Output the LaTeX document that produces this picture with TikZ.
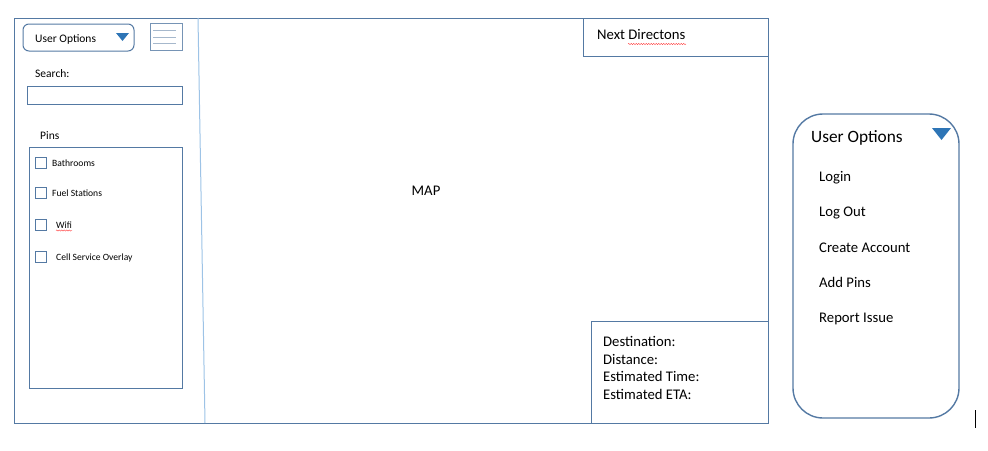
\documentclass[tikz,border=0pt]{standalone}
\usepackage{fontspec}
\setmainfont{Carlito}
\usetikzlibrary{decorations.pathmorphing}
\definecolor{frame}{HTML}{5479A3}
\definecolor{tri}{HTML}{2E75B6}
\definecolor{divider}{HTML}{9DC3E6}
\definecolor{hamb}{HTML}{A6B8CC}
\tikzset{
  box/.style={draw=frame, line width=1pt},
  lbl/.style={inner sep=0pt, anchor=mid west, font=\fontsize{14.7}{17.6}\selectfont, yshift=-2.5pt},
  sml/.style={inner sep=0pt, anchor=mid west, font=\fontsize{11.5}{13.8}\selectfont, yshift=-2pt},
  tiny/.style={inner sep=0pt, anchor=mid west, font=\fontsize{9.6}{11.5}\selectfont, yshift=-1.5pt},
  chk/.style={draw=frame, line width=0.9pt},
  squig/.style={draw=red!80, line width=0.4pt, decorate, decoration={snake, amplitude=0.6pt, segment length=2.5pt}}
}
\begin{document}
\begin{tikzpicture}[x=1pt,y=-1pt]
\useasboundingbox (0,0) rectangle (988,450);
% outer frame
\draw[box] (14,18) rectangle (768,423);
% divider
\draw[draw=divider, line width=1pt] (198,18) -- (205,423);
% left dropdown
\draw[box, rounded corners=6pt] (23,24) rectangle (134,51);
\node[sml] (uoL) at (35,38) {User Options};
\fill[tri] (116,33) -- (129,33) -- (122.5,41) -- cycle;
% hamburger
\draw[draw=frame!80, line width=0.8pt] (150,23) rectangle (182,50);
\draw[draw=hamb, line width=0.8pt] (153,30.5) -- (176,30.5) (153,37) -- (176,37) (153,43.5) -- (176,43.5);
% search
\node[sml] (search) at (35,73) {Search:};
\draw[box] (27,86) rectangle (182,104);
% pins
\node[sml] (pins) at (40,135) {Pins};
\draw[box] (29,147) rectangle (182,388);
\draw[chk] (35,157) rectangle (46,168);
\node[tiny] (p1) at (52,162.5) {Bathrooms};
\draw[chk] (35,187) rectangle (46,198);
\node[tiny] (p2) at (52,193) {Fuel Stations};
\draw[chk] (35,219) rectangle (46,230);
\node[tiny] (p3) at (56,224.5) {Wifi};
\draw[squig] (56,230.5) -- (72,230.5);
\draw[chk] (35,251) rectangle (46,262);
\node[tiny] (p4) at (56,256.5) {Cell Service Overlay};
% map
\node[lbl, anchor=center, yshift=0.5pt] (map) at (426,189) {MAP};
% next directions
\draw[box] (583,18) rectangle (768,56);
\node[lbl] (nd) at (597,35) {Next Directons};
\draw[squig] (628,44) -- (686,44);
% info box
\draw[box] (591,321) rectangle (768,423);
\node[lbl] (i1) at (603,342) {Destination:};
\node[lbl] (i2) at (603,359.5) {Distance:};
\node[lbl] (i3) at (603,377) {Estimated Time:};
\node[lbl] (i4) at (603,394.5) {Estimated ETA:};
% right panel
\draw[box, line width=1.4pt, rounded corners=30pt] (793,114) rectangle (959,418);
\node[inner sep=0pt, anchor=mid west, font=\fontsize{17.3}{20}\selectfont, yshift=-3pt] (uoR) at (811,137) {User Options};
\fill[tri] (932,128) -- (951,128) -- (941.5,140) -- cycle;
\node[lbl] (m1) at (819,177) {Login};
\node[lbl] (m2) at (819,212) {Log Out};
\node[lbl] (m3) at (819,248) {Create Account};
\node[lbl] (m4) at (819,283) {Add Pins};
\node[lbl] (m5) at (819,318) {Report Issue};
% cursor
\draw[black, line width=0.8pt] (975.5,410) -- (975.5,428);
\end{tikzpicture}
\end{document}
